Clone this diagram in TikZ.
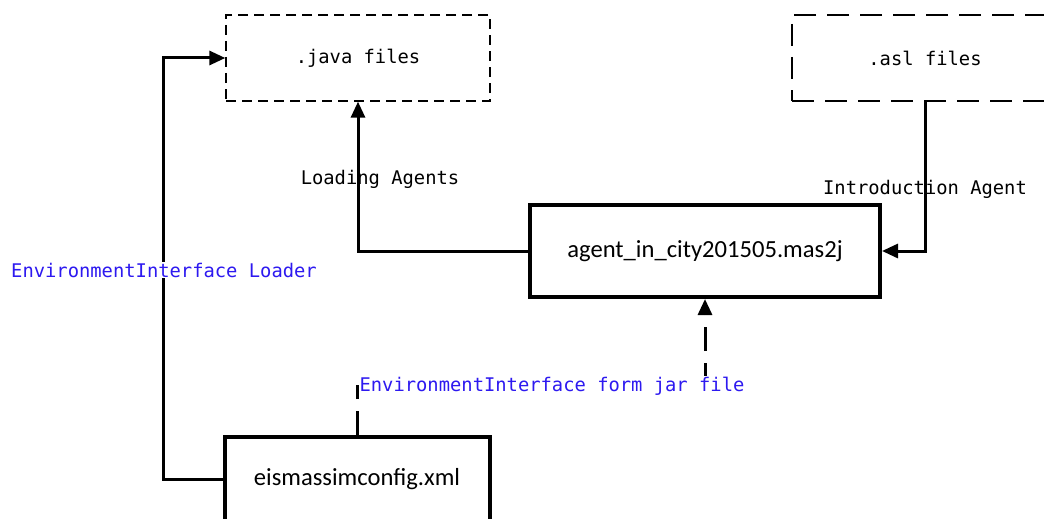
\documentclass[tikz,border=0pt]{standalone}
\usepackage{fontspec}
\setmainfont{Carlito}
\newfontfamily\codefont{DejaVu Sans Mono}
\usetikzlibrary{arrows.meta}
\definecolor{ifblue}{RGB}{45,25,240}
\tikzset{
  filebox/.style={draw, line width=1.3pt, dash pattern=on 10pt off 6pt,
    minimum width=264pt, minimum height=86pt, inner sep=0pt,
    font=\codefont\fontsize{18.8}{22}\selectfont},
  mainbox/.style={draw, line width=4pt, minimum width=350pt, minimum height=92pt,
    inner sep=0pt, font=\fontsize{24.6}{28}\selectfont},
  conn/.style={line width=3pt, -{Triangle[length=16pt,width=14pt]}},
  plainlabel/.style={font=\codefont\fontsize{18.8}{22}\selectfont, inner sep=1pt},
  bluelabel/.style={plainlabel, text=ifblue, fill=white}
}
\begin{document}
\begin{tikzpicture}[x=1pt,y=-1pt]
\useasboundingbox (0,0) rectangle (1044,519);
% file sources
\node[filebox] (java) at (358,58) {.java files};
\node[filebox, minimum width=266pt, dash pattern=on 22pt off 11pt] (asl) at (925,58) {.asl files};
% project and configuration files
\node[mainbox] (agent) at (705,251) {agent\_in\_city201505.mas2j};
\node[mainbox, minimum width=265pt, minimum height=84pt] (config) at (357,479) {eismassimconfig.xml};
% connectors
\draw[conn] (agent.west) -| (java.south);
\draw[conn] (asl.south) |- (agent.east);
\coordinate (bend) at (163,479);
\draw[conn] (config.west) -- (bend) |- (java.west);
\coordinate (jarturn) at (357,386);
\draw[conn, dash pattern=on 24pt off 12pt] (config.north) -- (jarturn) -| (agent.south);
% labels
\node[plainlabel] (lload) at (380,179) {Loading Agents};
\node[plainlabel] (lintro) at (925,189) {Introduction Agent};
\node[bluelabel] (lenv) at (164,270) {EnvironmentInterface Loader};
\node[bluelabel] (ljar) at (552,386) {EnvironmentInterface form jar file};
\end{tikzpicture}
\end{document}
